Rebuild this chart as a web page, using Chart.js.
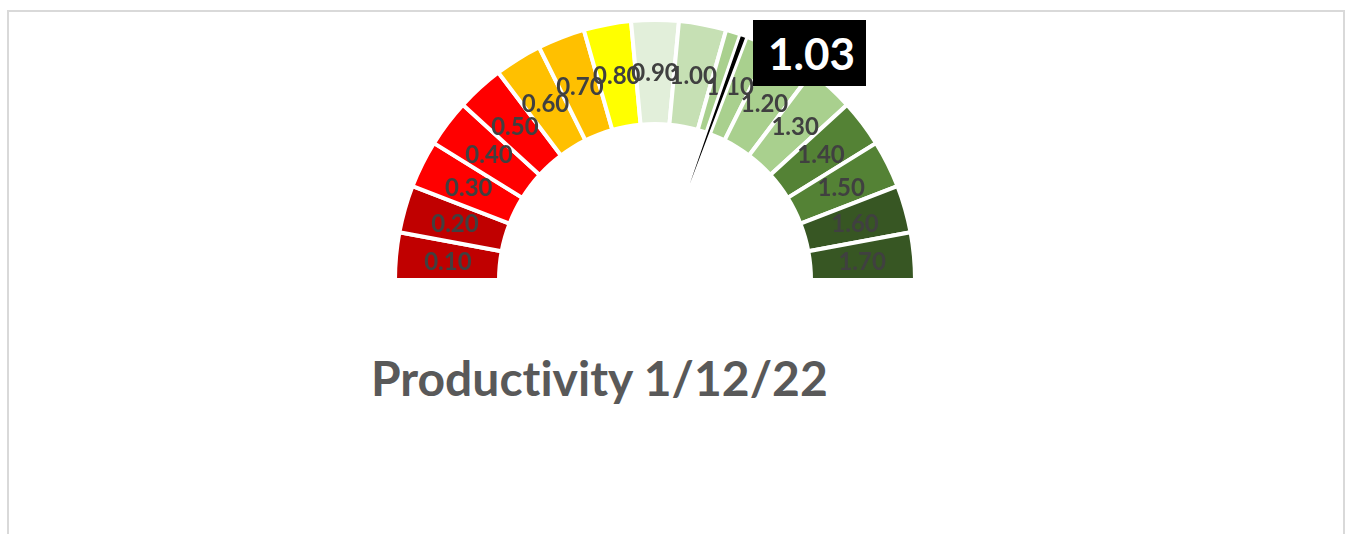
<!DOCTYPE html>
<html>
<head>
<meta charset="utf-8">
<script src="https://cdn.jsdelivr.net/npm/chart.js@4.4.0/dist/chart.umd.min.js"></script>
<style>
  body { margin: 0; background: #fff; width: 1356px; height: 534px; overflow: hidden; position: relative; font-family: Lato, "Open Sans", sans-serif; }
  #frame { position: absolute; left: 7px; top: 10px; width: 1334px; height: 540px; border: 2px solid #d9d9d9; }
  canvas { position: absolute; left: 393px; top: 18px; }
  #value { position: absolute; left: 753px; top: 20px; width: 113px; height: 66px; background: #000; color: #fff;
    font: bold 44px Lato, sans-serif; text-align: center; line-height: 66px; padding-left: 4px; box-sizing: border-box; }
  #title { position: absolute; left: 371px; top: 349px; color: #595959; font: bold 48px Lato, sans-serif; white-space: nowrap;
    font-variant-ligatures: none; font-feature-settings: "liga" 0; }
</style>
</head>
<body>
<div id="frame"></div>
<canvas id="gauge" width="524" height="264"></canvas>
<canvas id="needle" width="524" height="264"></canvas>
<div id="value"></div>
<div id="title">Productivity 1/12/22</div>
<script>
// gauge bands, one per 0.10 step
const bandLabels = ['0.10','0.20','0.30','0.40','0.50','0.60','0.70','0.80','0.90','1.00','1.10','1.20','1.30','1.40','1.50','1.60','1.70'];
const bandSizes = [0.1,0.1,0.1,0.1,0.1,0.1,0.1,0.1,0.1,0.1,0.1,0.1,0.1,0.1,0.1,0.1,0.1];
const bandColors = ['#C00000','#C00000','#FF0000','#FF0000','#FF0000','#FFC000','#FFC000','#FFFF00','#E2EFDA','#C6E0B4',
  '#A9D08E','#A9D08E','#A9D08E','#548235','#548235','#375623','#375623'];
const needleValue = 1.03;
const needleWidth = 0.016;

const gaugeMax = bandSizes.reduce((a, b) => a + b, 0);
document.getElementById('value').textContent = needleValue.toFixed(2);

const bandText = {
  id: 'bandText',
  afterDatasetsDraw(chart) {
    const c = chart.ctx;
    c.save();
    c.font = 'bold 24px Lato, sans-serif';
    c.fillStyle = '#404040';
    c.textAlign = 'center';
    c.textBaseline = 'middle';
    chart.getDatasetMeta(0).data.forEach((arc, i) => {
      const p = arc.getCenterPoint();
      c.fillText(bandLabels[i], p.x, p.y + 1);
    });
    c.restore();
  }
};

const common = {
  responsive: false,
  animation: false,
  events: [],
  rotation: -90,
  circumference: 180,
  plugins: { legend: { display: false }, tooltip: { enabled: false } }
};

new Chart(document.getElementById('gauge'), {
  type: 'doughnut',
  data: {
    labels: bandLabels,
    datasets: [{
      data: bandSizes,
      backgroundColor: bandColors,
      borderColor: '#ffffff',
      borderWidth: 4
    }]
  },
  options: { ...common, cutout: '60%' },
  plugins: [bandText]
});

new Chart(document.getElementById('needle'), {
  type: 'pie',
  data: {
    labels: ['value', 'needle', 'rest'],
    datasets: [{
      data: [needleValue, needleWidth, gaugeMax - needleValue - needleWidth],
      backgroundColor: ['rgba(0,0,0,0)', '#000000', 'rgba(0,0,0,0)'],
      borderColor: ['rgba(0,0,0,0)', '#ffffff', 'rgba(0,0,0,0)'],
      borderWidth: [4, 3, 4]
    }]
  },
  options: { ...common, cutout: 0 }
});
</script>
</body>
</html>
